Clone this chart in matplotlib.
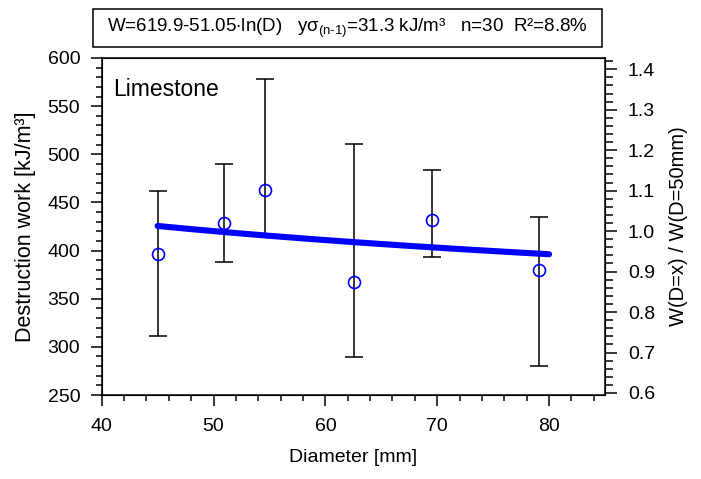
import numpy as np
import matplotlib
matplotlib.use("Agg")
import matplotlib.pyplot as plt
from matplotlib.patches import Rectangle
from matplotlib.ticker import MultipleLocator

plt.rcParams['font.family'] = ['Liberation Sans', 'DejaVu Sans']
plt.rcParams['mathtext.fontset'] = 'custom'
plt.rcParams['mathtext.rm'] = 'Liberation Sans'
plt.rcParams['mathtext.it'] = 'Liberation Sans'

# Data
diameter = [45.0, 50.9, 54.6, 62.6, 69.5, 79.1]
work_mean = [396.5, 428.3, 462.6, 367.7, 431.8, 379.9]
work_upper = [461.9, 489.9, 578.5, 510.7, 483.7, 434.6]
work_lower = [311.3, 387.8, 415.2, 289.2, 393.0, 280.2]

# Regression shown in the header: W = a - b*ln(D)
fit_a = 619.9
fit_b = 51.05
fit_range = [45.0, 80.0]
ref_diameter = 50.0

header = (r'W=619.9-51.05$\cdot$ln(D)   y$\sigma_{(n\text{-}1)}$'
          r'=31.3 kJ/m³   n=30  R²=8.8%')

W, H = 701, 479
fig = plt.figure(figsize=(W / 100, H / 100), dpi=100)
ax = fig.add_axes([101.7 / W, 1 - 395 / H, (605 - 101.7) / W, (395 - 58) / H])

yerr = [np.array(work_mean) - np.array(work_lower),
        np.array(work_upper) - np.array(work_mean)]
ax.errorbar(diameter, work_mean, yerr=yerr, fmt='none', ecolor='black',
            elinewidth=1.1, capsize=6.2, capthick=1.1, zorder=2)

xf = np.linspace(fit_range[0], fit_range[1], 200)
yf = fit_a - fit_b * np.log(xf)
ax.plot(xf, yf, color=(0, 0, 1), lw=4.4, solid_capstyle='round', zorder=3)

ax.plot(diameter, work_mean, 'o', mfc='none', mec=(0, 0, 1), mew=1.2,
        ms=8.6, zorder=4)

ax.set_xlim(40, 85)
ax.set_ylim(250, 600)
ax.xaxis.set_major_locator(MultipleLocator(10))
ax.xaxis.set_minor_locator(MultipleLocator(2))
ax.yaxis.set_major_locator(MultipleLocator(50))
ax.yaxis.set_minor_locator(MultipleLocator(10))
ax.set_xticks([40, 50, 60, 70, 80])
ax.tick_params(which='major', direction='out', length=8, width=1.1,
               labelsize=14)
ax.tick_params(axis='x', which='major', pad=8.5)
ax.tick_params(axis='y', which='major', pad=7.5)
ax.tick_params(which='minor', direction='out', length=4.5, width=1.1)
for s in ax.spines.values():
    s.set_linewidth(1.1)

ax.set_xlabel('Diameter [mm]', fontsize=14, labelpad=10)
ax.set_ylabel('Destruction work [kJ/m³]', fontsize=15.5, labelpad=8)

w_ref = fit_a - fit_b * np.log(ref_diameter)
ax2 = ax.twinx()
ax2.set_ylim(250 / w_ref, 600 / w_ref)
ax2.yaxis.set_major_locator(MultipleLocator(0.1))
ax2.yaxis.set_minor_locator(MultipleLocator(0.02))
ax2.tick_params(which='major', direction='out', length=8.5, width=1.1,
                labelsize=14, pad=8)
ax2.tick_params(which='minor', direction='out', length=5.5, width=1.1)
ax2.set_ylabel('W(D=x) / W(D=50mm)', fontsize=14.5, labelpad=10)

ax.text(0.022, 0.94, 'Limestone', transform=ax.transAxes, fontsize=16.5,
        ha='left', va='top')

fig.patches.append(Rectangle((93 / W, 1 - 47 / H), (602 - 93) / W, 38 / H,
                             transform=fig.transFigure, fill=False,
                             edgecolor='black', lw=1.1))
fig.text((93 + 602) / 2 / W, 1 - 28 / H, header, ha='center', va='center',
         fontsize=13.5)

fig.savefig('out.png', dpi=100)
